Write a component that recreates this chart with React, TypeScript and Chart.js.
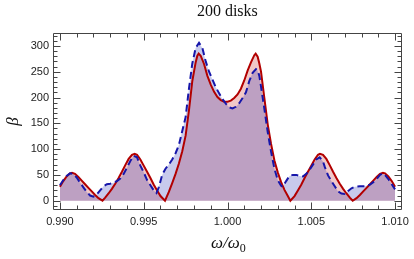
import React, { useEffect, useRef } from "react";
import { Chart, registerables } from "chart.js";

Chart.register(...registerables);

const title = "200 disks";
const xTickValues = [0.99, 0.995, 1.0, 1.005, 1.01];
const yTickValues = [0, 50, 100, 150, 200, 250, 300];

const redX = [
  0.99, 0.9902, 0.9904, 0.9906, 0.99072, 0.9909, 0.9911, 0.9913, 0.9915, 0.9917, 0.9919, 0.9921, 0.9923, 0.99254,
  0.9927, 0.9929, 0.9931, 0.9933, 0.9935, 0.9937, 0.9939, 0.9941, 0.9943, 0.99446, 0.9946, 0.9948, 0.995, 0.9952,
  0.9954, 0.9956, 0.9958, 0.996, 0.99627,
  0.9965, 0.9967, 0.9969, 0.9971, 0.9973, 0.9975, 0.9977, 0.9979, 0.9981, 0.9982, 0.99828, 0.9984, 0.9986, 0.9988,
  0.999, 0.9992, 0.9994, 0.9996, 0.9998, 1.0, 1.0002, 1.0004, 1.0006, 1.0008, 1.001, 1.0012, 1.0014, 1.0016, 1.00168,
  1.0018, 1.0019, 1.002, 1.0022, 1.0024, 1.0026, 1.0028, 1.003, 1.0032, 1.0034, 1.0036, 1.00375,
  1.004, 1.0042, 1.0044, 1.0046, 1.0048, 1.005, 1.0052, 1.0054, 1.00552, 1.0057, 1.0059, 1.0061, 1.0063, 1.0065,
  1.0067, 1.0069, 1.0071, 1.0073, 1.00747,
  1.0077, 1.0079, 1.0081, 1.0083, 1.0085, 1.0087, 1.0089, 1.0091, 1.00928, 1.0094, 1.0096, 1.0098, 1.01,
];
const redY = [
  27, 38, 47, 53, 54, 52, 46, 39, 32, 25, 18, 11, 5, 0,
  6, 14, 23, 33, 44, 56, 69, 81, 89, 91, 89, 80, 68, 56,
  44, 31, 20, 9, 0,
  17, 34, 52, 72, 96, 126, 175, 232, 268, 281, 285, 281, 265, 242,
  225, 211, 201, 195, 192, 192, 194, 199, 206, 217, 233, 252, 268, 282, 285,
  279, 266, 250, 199, 148, 110, 78, 55, 36, 21, 9, 0,
  9, 20, 31, 44, 56, 68, 80, 89, 91, 89, 81, 69, 56, 44,
  33, 23, 14, 6, 0,
  5, 11, 18, 25, 32, 39, 46, 52, 54, 53, 47, 38, 27,
];

const blueX = [
  0.99, 0.9902, 0.9904, 0.9906, 0.9908, 0.991, 0.9912, 0.9914, 0.9916, 0.9918, 0.992, 0.9922, 0.9924, 0.9926,
  0.9928, 0.993, 0.9932, 0.9934, 0.9936, 0.9938, 0.994, 0.9942, 0.9944, 0.9946, 0.9948, 0.995, 0.9952, 0.9954,
  0.9956, 0.99576, 0.9959, 0.9961, 0.9963, 0.9965, 0.9967, 0.9969, 0.9971, 0.9973, 0.9975, 0.9977, 0.9979, 0.9981,
  0.9983, 0.9985, 0.9987, 0.9989, 0.9991, 0.9993, 0.9995, 0.9997, 0.9999, 1.0001, 1.0003, 1.0005, 1.0007, 1.0009,
  1.0011, 1.0013, 1.0015, 1.0017, 1.0018, 1.0019, 1.002, 1.0022, 1.0024, 1.0026, 1.0028, 1.003, 1.0032, 1.0033,
  1.0035, 1.0037, 1.0039, 1.0041, 1.0043, 1.0045, 1.0047, 1.0049, 1.0051, 1.0053, 1.0055, 1.0057, 1.0058, 1.006,
  1.0062, 1.0064, 1.0066, 1.0068, 1.007, 1.0072, 1.0074, 1.0076, 1.0079, 1.0082, 1.0085, 1.0087, 1.0089, 1.0091,
  1.00925, 1.0094, 1.0096, 1.0098, 1.01,
];
const blueY = [
  30, 40, 48, 53, 52, 45, 35, 26, 17, 10, 8, 12, 20, 28,
  32, 33, 35, 38, 43, 52, 64, 77, 87, 84, 68, 55, 40, 30,
  20, 15, 26, 50, 62, 70, 80, 92, 108, 135, 162, 217, 266, 296,
  306, 296, 270, 250, 235, 220, 208, 197, 188, 181, 179, 182, 189, 199,
  210, 232, 248, 255, 252, 242, 221, 178, 133, 95, 62, 40, 29, 27,
  38, 48, 50, 50, 48, 47, 52, 60, 70, 80, 84, 76, 66, 49,
  38, 28, 18, 14, 13, 19, 24, 27, 28, 28, 31, 36, 42, 50,
  53, 50, 42, 32, 22,
];

const X_MIN = 0.989586;
const X_MAX = 1.010396;
const Y_MIN = -18;
const Y_MAX = 325;

const framePlugin = {
  id: "frame",
  afterDraw(chart: any) {
    const { ctx, chartArea: a, scales } = chart;
    const xs = scales.x;
    const ys = scales.y;
    ctx.save();
    ctx.strokeStyle = "#444";
    ctx.lineWidth = 1;
    const L = Math.round(a.left) + 0.5;
    const R = Math.round(a.right) - 0.5;
    const T = Math.round(a.top) + 0.5;
    const B = Math.round(a.bottom) - 0.5;
    ctx.beginPath();
    ctx.rect(L, T, R - L, B - T);
    ctx.stroke();
    ctx.beginPath();
    // x ticks every 0.001
    for (let i = 990; i <= 1010; i++) {
      const v = i / 1000;
      const px = Math.round(xs.getPixelForValue(v)) + 0.5;
      const len = i % 5 === 0 ? 7 : 4;
      ctx.moveTo(px, B);
      ctx.lineTo(px, B - len);
      ctx.moveTo(px, T);
      ctx.lineTo(px, T + len);
    }
    // y ticks every 10
    for (let v = -10; v <= 320; v += 10) {
      const py = Math.round(ys.getPixelForValue(v)) + 0.5;
      const len = v % 50 === 0 ? 7 : 4;
      ctx.moveTo(L, py);
      ctx.lineTo(L + len, py);
      ctx.moveTo(R, py);
      ctx.lineTo(R - len, py);
    }
    ctx.stroke();

    ctx.fillStyle = "#111";
    ctx.textAlign = "center";
    ctx.textBaseline = "alphabetic";
    ctx.font = "16px 'Liberation Serif'";
    ctx.fillText(title, (a.left + a.right) / 2, 16);

    // x-axis title: ω/ω0
    ctx.font = "italic 17px 'Liberation Serif'";
    const main = "ω/ω";
    const wMain = ctx.measureText(main).width;
    ctx.font = "12px 'Liberation Serif'";
    const wSub = ctx.measureText("0").width;
    const cx = (a.left + a.right) / 2 + 1;
    const start = cx - (wMain + wSub) / 2;
    ctx.textAlign = "left";
    ctx.font = "italic 17px 'Liberation Serif'";
    ctx.fillText(main, start, 248);
    ctx.font = "12px 'Liberation Serif'";
    ctx.fillText("0", start + wMain, 252);

    // y-axis title: β
    ctx.save();
    ctx.translate(14, (a.top + a.bottom) / 2);
    ctx.rotate(-Math.PI / 2);
    ctx.textAlign = "center";
    ctx.textBaseline = "middle";
    ctx.font = "italic 17px 'Liberation Serif'";
    ctx.fillText("β", 0, 0);
    ctx.restore();
    ctx.restore();
  },
};

export default function App() {
  const ref = useRef<HTMLCanvasElement | null>(null);
  useEffect(() => {
    if (!ref.current) return;
    const chart = new Chart(ref.current, {
      type: "line",
      data: {
        datasets: [
          {
            label: "dashed",
            data: blueX.map((x, i) => ({ x, y: blueY[i] })),
            borderColor: "rgb(22,22,170)",
            borderWidth: 2,
            borderDash: [7, 4],
            backgroundColor: "rgba(35,43,179,0.25)",
            fill: "origin",
            pointRadius: 0,
            tension: 0,
            order: 1,
          },
          {
            label: "solid",
            data: redX.map((x, i) => ({ x, y: redY[i] })),
            borderColor: "rgb(178,0,0)",
            borderWidth: 2,
            backgroundColor: "rgba(199,35,35,0.25)",
            fill: "origin",
            pointRadius: 0,
            tension: 0,
            order: 2,
          },
        ],
      },
      options: {
        animation: false,
        responsive: false,
        maintainAspectRatio: false,
        layout: { padding: { top: 33, right: 9, left: 0, bottom: 0 } },
        plugins: {
          legend: { display: false },
          tooltip: { enabled: false },
          title: { display: false },
          filler: { drawTime: "beforeDatasetsDraw" },
        } as any,
        scales: {
          x: {
            type: "linear",
            min: X_MIN,
            max: X_MAX,
            afterFit: (s: any) => {
              s.height = 49;
            },
            afterBuildTicks: (s: any) => {
              s.ticks = xTickValues.map((v) => ({ value: v }));
            },
            grid: { display: false, drawTicks: false },
            border: { display: false },
            ticks: {
              autoSkip: false,
              maxRotation: 0,
              padding: 5,
              color: "#222",
              font: { family: "'Liberation Sans'", size: 11 },
              callback: (v: any) => Number(v).toFixed(3),
            },
          },
          y: {
            type: "linear",
            min: Y_MIN,
            max: Y_MAX,
            afterFit: (s: any) => {
              s.width = 53;
            },
            afterBuildTicks: (s: any) => {
              s.ticks = yTickValues.map((v) => ({ value: v }));
            },
            grid: { display: false, drawTicks: false },
            border: { display: false },
            ticks: {
              autoSkip: false,
              padding: 4,
              color: "#222",
              font: { family: "'Liberation Sans'", size: 11 },
              callback: (v: any) => String(v),
            },
          },
        },
      },
      plugins: [framePlugin],
    });
    return () => chart.destroy();
  }, []);
  return (
    <div style={{ position: "fixed", left: 0, top: 0, width: 414, height: 259, background: "#fff" }}>
      <canvas ref={ref} width={414} height={259} style={{ display: "block" }} />
    </div>
  );
}
